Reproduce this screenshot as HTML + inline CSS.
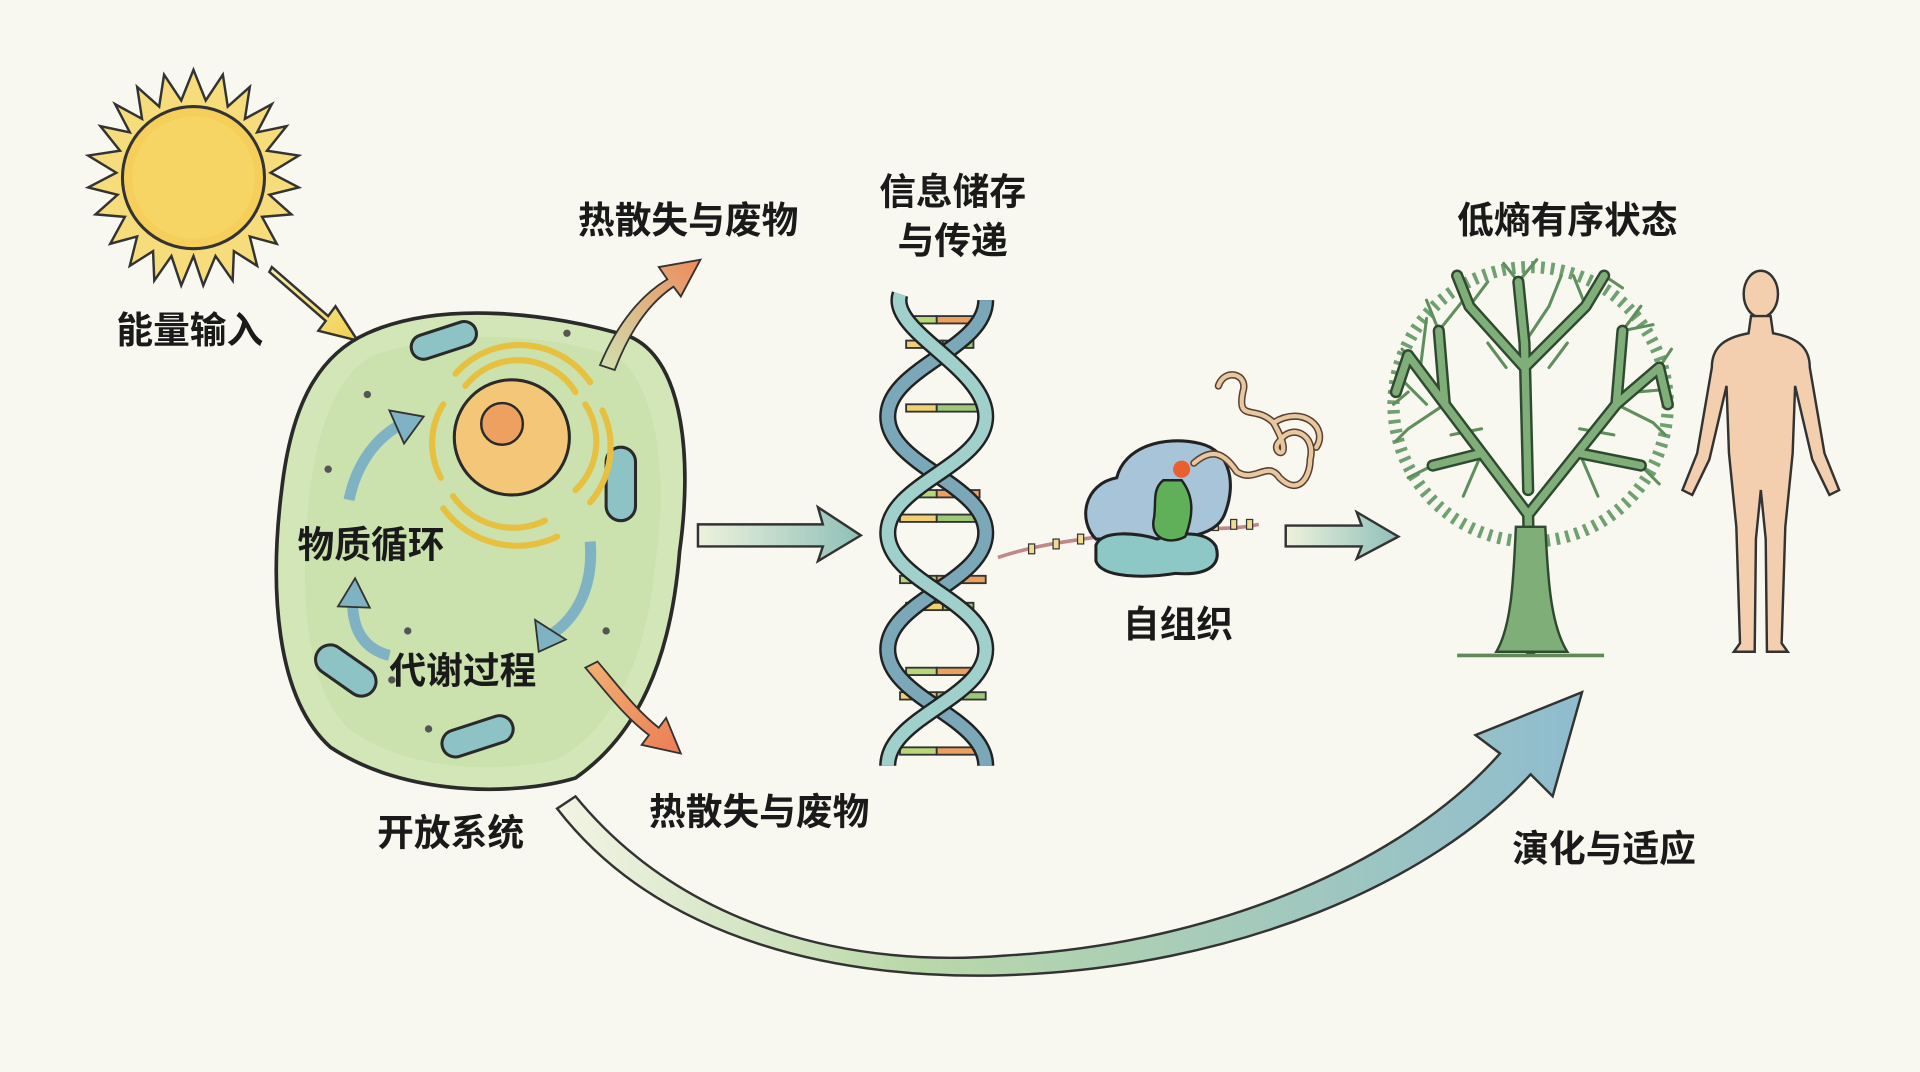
<!DOCTYPE html>
<html><head><meta charset="utf-8"><style>
html,body{margin:0;padding:0;background:#f8f7f0;}
svg{display:block}
text{font-family:"Liberation Sans","Noto Sans CJK SC",sans-serif;fill:#1a1a1a;font-weight:700}
</style></head><body>
<svg width="1920" height="1072" viewBox="0 0 1568 875" preserveAspectRatio="none" xmlns="http://www.w3.org/2000/svg">
<defs>
<linearGradient id="big" x1="0" y1="0" x2="1" y2="0">
<stop offset="0" stop-color="#f3f4e4"/><stop offset="0.35" stop-color="#b9d8a8"/><stop offset="1" stop-color="#8fbccf"/></linearGradient>
<linearGradient id="ar" x1="0" y1="0" x2="1" y2="0">
<stop offset="0" stop-color="#eef2dc"/><stop offset="1" stop-color="#8fc0b8"/></linearGradient>
<linearGradient id="or1" x1="0" y1="1" x2="1" y2="0">
<stop offset="0" stop-color="#cfe2b0"/><stop offset="1" stop-color="#ee8a5a"/></linearGradient>
<linearGradient id="or2" x1="0" y1="0" x2="1" y2="1">
<stop offset="0" stop-color="#f2b070"/><stop offset="1" stop-color="#ec7d55"/></linearGradient>
<linearGradient id="yl" x1="0" y1="0" x2="1" y2="1">
<stop offset="0" stop-color="#f7efb0"/><stop offset="1" stop-color="#f2d050"/></linearGradient>
</defs>
<rect width="1568" height="875" fill="#f8f7f0"/>

<!-- sun -->
<g transform="translate(158,145)">
<polygon fill="#f6dc7a" stroke="#333" stroke-width="2" points="
0,-88 10,-63 24,-84 28,-58 46,-74 42,-48 64,-60 52,-37 76,-42 60,-22 86,-18 63,-4 86,8 62,14 80,30 56,32 68,54 46,48 52,72 33,60 32,84 18,64 8,88 0,64 -10,88 -18,64 -32,84 -33,60 -52,72 -46,48 -68,54 -56,32 -80,30 -62,14 -86,8 -63,-4 -86,-18 -60,-22 -76,-42 -52,-37 -64,-60 -42,-48 -46,-74 -28,-58 -24,-84 -10,-63"/>
<circle r="58" fill="#f6cf5a" stroke="#333" stroke-width="2.5"/>
<circle r="50" fill="#f8d86a" opacity="0.6"/>
</g>
<path d="M222,218 L268,258 L274,250 L292,278 L260,270 L266,262 L220,222 Z" fill="url(#yl)" stroke="#333" stroke-width="2"/>
<text x="155" y="280" font-size="30" text-anchor="middle">能量输入</text>

<!-- cell -->
<path d="M300,272 C360,245 450,255 515,275 C560,295 565,380 555,450 C548,540 520,600 470,635 C420,650 330,650 270,610 C225,570 220,480 230,400 C238,330 260,290 300,272 Z" fill="#d3e6b8" stroke="#2a2a2a" stroke-width="3"/>
<path d="M305,290 C370,268 450,272 505,292 C540,320 545,400 535,460 C528,540 500,595 455,620 C400,632 330,628 285,595 C248,560 245,480 252,410 C258,350 275,305 305,290 Z" fill="#c6dea6" opacity="0.6"/>
<g fill="#8ec3c6" stroke="#2a2a2a" stroke-width="2.5">
<rect x="335" y="268" width="55" height="20" rx="10" transform="rotate(-18 362 278)"/>
<rect x="495" y="365" width="24" height="60" rx="12"/>
<rect x="255" y="535" width="55" height="24" rx="12" transform="rotate(35 282 547)"/>
<rect x="360" y="590" width="60" height="22" rx="11" transform="rotate(-18 390 601)"/>
</g>
<g fill="none" stroke="#e8c040" stroke-width="5" stroke-linecap="round">
<path d="M380,315 A55,55 0 0 1 470,320"/>
<path d="M372,305 A70,70 0 0 1 482,312"/>
<path d="M478,330 A55,55 0 0 1 470,400"/>
<path d="M492,335 A70,70 0 0 1 482,410"/>
<path d="M370,405 A60,60 0 0 0 445,425"/>
<path d="M362,415 A75,75 0 0 0 455,438"/>
<path d="M362,330 A60,60 0 0 0 360,390"/>
</g>
<circle cx="418" cy="357" r="47" fill="#f4c778" stroke="#2a2a2a" stroke-width="2.5"/>
<circle cx="410" cy="346" r="17" fill="#eda060" stroke="#2a2a2a" stroke-width="2"/>
<g fill="#555"><circle cx="300" cy="322" r="3"/><circle cx="268" cy="383" r="3"/><circle cx="463" cy="272" r="3"/><circle cx="333" cy="515" r="3"/><circle cx="350" cy="595" r="3"/><circle cx="495" cy="515" r="3"/><circle cx="320" cy="555" r="3"/></g>
<path d="M285,408 C292,375 310,355 330,345" fill="none" stroke="#7fb3c3" stroke-width="9"/>
<path d="M318,335 L346,340 L330,362 Z" fill="#7fb3c3" stroke="#333" stroke-width="1.5"/>
<path d="M482,442 C485,480 470,505 450,518" fill="none" stroke="#7fb3c3" stroke-width="9"/>
<path d="M437,506 L440,532 L462,522 Z" fill="#7fb3c3" stroke="#333" stroke-width="1.5"/>
<path d="M318,535 C298,530 288,515 288,492" fill="none" stroke="#7fb3c3" stroke-width="9"/>
<path d="M276,495 L290,472 L302,496 Z" fill="#7fb3c3" stroke="#333" stroke-width="1.5"/>
<text x="303" y="455" font-size="30" text-anchor="middle">物质循环</text>
<text x="378" y="558" font-size="30" text-anchor="middle">代谢过程</text>
<text x="368" y="690" font-size="30" text-anchor="middle">开放系统</text>

<path d="M490,298 C505,262 525,240 545,228 L538,218 L572,212 L556,242 L550,234 C532,246 515,268 502,302 Z" fill="url(#or1)" stroke="#333" stroke-width="1.5"/>
<path d="M478,545 C495,565 510,585 530,600 L524,608 L556,615 L544,586 L538,594 C520,580 505,560 488,540 Z" fill="url(#or2)" stroke="#333" stroke-width="1.5"/>
<text x="562" y="190" font-size="30" text-anchor="middle">热散失与废物</text>
<text x="620" y="673" font-size="30" text-anchor="middle">热散失与废物</text>

<path d="M570,428 L672,428 L668,414 L703,437 L668,458 L672,446 L570,446 Z" fill="url(#ar)" stroke="#333" stroke-width="2"/>

<!-- DNA -->
<text x="778" y="167" font-size="30" text-anchor="middle">信息储存</text>
<text x="778" y="207" font-size="30" text-anchor="middle">与传递</text>
<g stroke="#333" stroke-width="1.5">
<g fill="#b8d878"><rect x="735" y="258" width="30" height="6"/><rect x="740" y="400" width="25" height="6"/><rect x="735" y="470" width="30" height="6"/><rect x="740" y="545" width="25" height="6"/><rect x="735" y="610" width="30" height="6"/></g>
<g fill="#eba060"><rect x="765" y="258" width="40" height="6"/><rect x="765" y="400" width="35" height="6"/><rect x="765" y="470" width="40" height="6"/><rect x="765" y="545" width="35" height="6"/><rect x="765" y="610" width="40" height="6"/></g>
<g fill="#f0d070"><rect x="740" y="278" width="30" height="6"/><rect x="735" y="420" width="30" height="6"/><rect x="740" y="492" width="30" height="6"/><rect x="735" y="565" width="30" height="6"/><rect x="740" y="330" width="25" height="6"/></g>
<g fill="#9cc878"><rect x="770" y="278" width="25" height="6"/><rect x="765" y="420" width="40" height="6"/><rect x="770" y="492" width="25" height="6"/><rect x="765" y="565" width="40" height="6"/><rect x="765" y="330" width="35" height="6"/></g>
</g>
<path d="M805,245 C805,285 725,300 725,340 C725,380 805,395 805,435 C805,475 725,490 725,530 C725,570 805,585 805,625" fill="none" stroke="#222" stroke-width="14"/>
<path d="M805,245 C805,285 725,300 725,340 C725,380 805,395 805,435 C805,475 725,490 725,530 C725,570 805,585 805,625" fill="none" stroke="#7aa8b8" stroke-width="10"/>
<path d="M735,240 C725,270 805,300 805,340 C805,380 725,395 725,435 C725,475 805,490 805,530 C805,570 725,585 725,625" fill="none" stroke="#222" stroke-width="14"/>
<path d="M735,240 C725,270 805,300 805,340 C805,380 725,395 725,435 C725,475 805,490 805,530 C805,570 725,585 725,625" fill="none" stroke="#9fd0cc" stroke-width="10"/>

<!-- ribosome -->
<path d="M815,455 C860,440 900,440 930,432 M960,430 C985,432 1010,432 1028,428" fill="none" stroke="#c08888" stroke-width="3"/>
<g fill="#f0dc90" stroke="#333" stroke-width="1"><rect x="840" y="444" width="5" height="8"/><rect x="860" y="440" width="5" height="8"/><rect x="880" y="436" width="5" height="8"/><rect x="900" y="433" width="5" height="8"/><rect x="990" y="425" width="5" height="8"/><rect x="1005" y="424" width="5" height="8"/><rect x="1018" y="424" width="5" height="8"/></g>
<path d="M895,440 C880,425 885,395 912,390 C918,365 950,355 980,362 C1005,368 1010,395 1000,420 C992,440 960,440 930,440 Z" fill="#a8c4d8" stroke="#222" stroke-width="2.5"/>
<path d="M895,445 C900,432 930,435 945,440 C960,435 985,432 993,446 C998,462 985,470 960,468 C935,472 900,472 895,458 Z" fill="#8ec8c6" stroke="#222" stroke-width="2.5"/>
<path d="M950,392 C940,400 945,412 942,425 C940,440 955,445 968,438 C975,420 975,405 965,392 Z" fill="#5fb058" stroke="#222" stroke-width="2"/>
<circle cx="965" cy="383" r="7" fill="#e86030"/>
<path d="M975,378 C990,365 1000,370 1010,385 C1025,395 1035,375 1045,390 C1060,405 1070,390 1070,375 C1075,355 1055,345 1045,360 C1035,370 1060,380 1040,345 C1025,330 1010,345 1015,320 C1020,305 1000,300 995,315 M1040,345 C1065,330 1085,350 1075,365" fill="none" stroke="#5a4030" stroke-width="6" stroke-linecap="round"/>
<path d="M975,378 C990,365 1000,370 1010,385 C1025,395 1035,375 1045,390 C1060,405 1070,390 1070,375 C1075,355 1055,345 1045,360 C1035,370 1060,380 1040,345 C1025,330 1010,345 1015,320 C1020,305 1000,300 995,315 M1040,345 C1065,330 1085,350 1075,365" fill="none" stroke="#e8c8a0" stroke-width="3.5" stroke-linecap="round"/>
<text x="962" y="520" font-size="30" text-anchor="middle">自组织</text>

<path d="M1050,429 L1112,429 L1108,418 L1142,438 L1108,456 L1112,446 L1050,446 Z" fill="url(#ar)" stroke="#333" stroke-width="2"/>

<!-- tree -->
<text x="1280" y="190" font-size="30" text-anchor="middle">低熵有序状态</text>
<circle cx="1250" cy="330" r="112" fill="none" stroke="#6fa070" stroke-width="10" stroke-dasharray="3 5"/>
<g fill="none" stroke="#5f8f5c" stroke-linecap="round" stroke-width="2.5">
<path d="M1180,330 L1150,350 L1140,360 M1180,330 L1160,300 L1145,285 M1160,300 L1165,260 M1175,270 L1165,245 M1175,270 L1195,245 M1200,250 L1215,230 M1240,230 L1228,215 M1240,230 L1255,212 M1245,280 L1265,250 L1275,225 M1295,250 L1285,225 M1310,225 L1325,235 M1325,270 L1340,250 M1325,270 L1350,265 M1355,300 L1365,285 M1320,330 L1350,345 L1360,355 M1340,380 L1355,395 M1170,380 L1150,390 M1210,370 L1195,405 M1290,370 L1305,405 M1210,350 L1185,355 M1290,350 L1318,355 M1230,300 L1215,280 M1265,300 L1280,280 M1150,320 L1138,330 M1335,320 L1360,318 M1165,330 L1145,310"/>
</g>
<g fill="none" stroke="#2f4a30" stroke-linecap="round">
<path d="M1250,530 L1248,420 M1248,420 L1180,330 L1150,290 M1248,420 L1320,330 L1355,300 M1248,400 L1245,280 L1240,230 M1210,370 L1170,380 M1290,370 L1340,380 M1245,300 L1200,250 M1245,300 L1295,250 M1180,330 L1175,270 M1320,330 L1325,270 M1200,250 L1190,225 M1295,250 L1310,225 M1150,290 L1140,320 M1355,300 L1362,330" stroke-width="10"/>
<path d="M1250,530 L1248,420 M1248,420 L1180,330 L1150,290 M1248,420 L1320,330 L1355,300 M1248,400 L1245,280 L1240,230 M1210,370 L1170,380 M1290,370 L1340,380 M1245,300 L1200,250 M1245,300 L1295,250 M1180,330 L1175,270 M1320,330 L1325,270 M1200,250 L1190,225 M1295,250 L1310,225 M1150,290 L1140,320 M1355,300 L1362,330" stroke="#7fae78" stroke-width="6"/>
</g>
<path d="M1222,532 C1235,510 1236,470 1238,430 L1262,430 C1264,470 1266,510 1280,532 Z" fill="#7fae78" stroke="#2f4a30" stroke-width="2"/>
<path d="M1190,535 L1310,535" stroke="#5f8a58" stroke-width="3"/>

<!-- human -->
<g fill="#f3cfb0" stroke="#333" stroke-width="2">
<ellipse cx="1438" cy="240" rx="14" ry="19"/>
<path d="M1430,258 L1446,258 L1448,272 C1470,276 1478,285 1478,300 L1490,370 L1502,400 L1494,404 L1480,375 L1466,315 L1464,370 L1458,430 L1455,525 L1460,532 L1443,532 L1442,440 L1438,400 L1434,440 L1433,532 L1416,532 L1421,525 L1418,430 L1412,370 L1410,315 L1396,375 L1382,404 L1374,400 L1386,370 L1398,300 C1398,285 1406,276 1428,272 Z"/>
</g>

<path d="M470,650 C560,760 700,790 820,780 C1000,770 1150,700 1225,615 L1205,600 L1292,565 L1268,650 L1250,632 C1170,720 1010,790 820,796 C690,800 540,770 455,660 Z" fill="url(#big)" stroke="#333" stroke-width="2"/>
<text x="1310" y="703" font-size="30" text-anchor="middle">演化与适应</text>
</svg>
</body></html>
